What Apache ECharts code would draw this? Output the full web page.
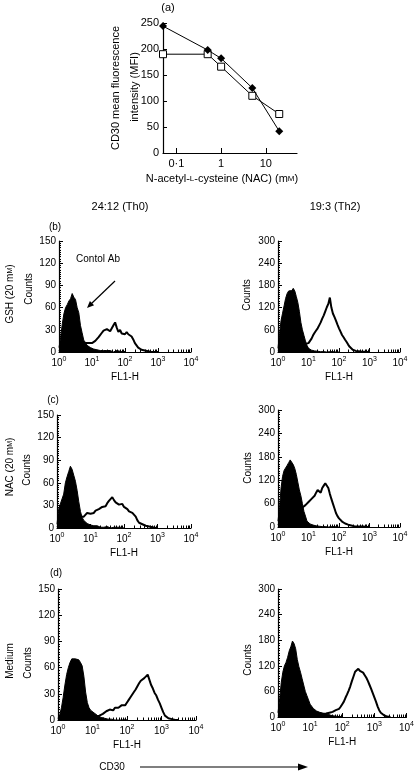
<!DOCTYPE html>
<html><head><meta charset="utf-8">
<script src="https://cdn.jsdelivr.net/npm/echarts@6/dist/echarts.min.js"></script>
<style>html,body{margin:0;padding:0;background:#fff}#c{width:417px;height:774px}</style>
</head><body><div id="c"></div>
<script>
// ---------- (a) CD30 MFI vs NAC concentration ----------
const nacConc = [0.05, 0.5, 1, 5, 20];          // mM (first point = no NAC, at axis origin)
const mfiDiamond = [244, 198, 182, 125, 42];    // filled diamonds
const mfiSquare  = [190, 190, 166, 110, 75];    // open squares
const aXTicks = [0.1, 1, 10];
const aXTickLabels = ['0·1', '1', '10'];

// ---------- histograms: counts per bin, bin width 0.05 log10(FL1-H) starting at 10^0 ----------
const BIN = 0.05;
const decadeExp = [0, 1, 2, 3, 4];
// 24:12 (Th0)
const ctlGSH_Th0 = [6,20,38,52,60,64,69,72,79,74,71,60,53,36,26,16,13,9,8,6,5,4,5,3,4,2,3,2,1,2,1,2,1,0,1,2,0,1,1,0,1];
const cd30GSH_Th0 = [1,2,3,4,5,6,7,8,9,10,10, 11,11,11,10,11,12,11,12,13,12, 14,15,17,20,22,26,29,28,31,30, 28,32,36,40,33,27,30,25,26,24, 27,24,25,21,17,12,9,6,4,3, 2,2,1,1,1,0,1,0,0,0];
const ctlNAC_Th0 = [5,25,32,30,45,60,68,75,82,78,70,62,50,35,22,14,10,8,6,5,4,3,3,2,3,2,1,2,1,1,2,1,0,1,1,0,1,0,1,0,0];
const cd30NAC_Th0 = [1,2,3,4,5,6,7,8,9,10,11, 11,12,14,15,16,15,17,20,18,19, 21,20,23,22,25,24,28,30,29,33, 36,38,41,37,34,35,31,30,32,28, 27,25,22,23,20,19,15,10,7,6, 5,4,3,3,2,1,1,1,0,0];
const ctlMed_Th0 = [2,6,14,26,40,52,60,66,70,72,70,71,69,66,62,50,32,20,14,11,9,8,6,5,4,3,3,2,2,1,2,1,1,0,1,0,1,0,0,1,0];
const cd30Med_Th0 = [1,1,2,2,3,3,3,4,4,4,4,4,4,5,5,5,5,5,4,4,3, 3,4,4,5,6,7,8,10,9,12, 13,11,14,15,14,16,17,16,17,20, 23,26,28,32,35,37,42,45,44,48, 49,52,50,40,36,31,28,23,19,14, 9,5,3,2,1,1,0,0,0,0];
// 19:3 (Th2)
const ctlGSH_Th2 = [10,50,85,105,125,145,158,165,170,166,172,165,150,134,110,80,60,45,30,18,10,6,5,4,3,3,2,2,1,2,1,1,0,1,1,0,1,0,0,1,0];
const cd30GSH_Th2 = [2,3,4,5,6,7,8,9,10,10,11,11,12,13,14,16,18,20,22,25,24, 26,36,45,52,58,64,72,80,90,99, 110,121,130,147,120,104,95,85,74,64, 55,46,40,33,27,20,14,10,6,4, 3,2,2,1,1,0,1,0,0,0];
const ctlNAC_Th2 = [15,50,100,130,145,150,158,165,172,168,160,150,135,115,95,80,60,40,28,15,10,8,6,5,4,3,3,2,2,1,2,1,1,0,1,1,0,1,0,0,0];
const cd30NAC_Th2 = [5,8,10,12,14,16,18,20,22,25,28,30,33,36,40, 45,50,53,56,60,64, 68,72,76,80,88,95,92,88,100,106, 112,108,100,85,72,60,48,36,28,22, 18,14,11,9,7,6,5,4,3,2, 2,1,1,1,0,1,0,0,0,0];
const ctlMed_Th2 = [10,40,80,105,120,128,140,155,165,178,172,160,135,118,105,90,75,60,50,40,30,25,20,16,14,12,11,10,9,8,7,6,5,4,3,3,2,2,1,1,1];
const cd30Med_Th2 = [1,2,3,4,5,5,6,6,7,7,8,8,8,8,8,8,8,8,8,8,8,8,8,8, 8,8,8,7,7,7,8, 9,10,11,12,14,16,18,19,24,30, 36,45,53,62,72,84,95,106,110,113, 108,106,104,98,92,84,75,66,56,46, 36,25,16,10,6,4,2,1,1,0];

const FONT = 'Liberation Sans, Arial, Helvetica, sans-serif';
const BLACK = '#000';

const panels = [
  {grid:{left:59, top:241, width:132, height:111}, yMax:150, yInt:30, ctl:ctlGSH_Th0, st:cd30GSH_Th0},
  {grid:{left:57, top:415, width:134, height:113}, yMax:150, yInt:30, ctl:ctlNAC_Th0, st:cd30NAC_Th0},
  {grid:{left:58, top:589, width:138, height:131}, yMax:150, yInt:30, ctl:ctlMed_Th0, st:cd30Med_Th0},
  {grid:{left:278, top:241, width:122, height:111}, yMax:300, yInt:60, ctl:ctlGSH_Th2, st:cd30GSH_Th2},
  {grid:{left:278, top:410, width:122, height:117}, yMax:300, yInt:60, ctl:ctlNAC_Th2, st:cd30NAC_Th2},
  {grid:{left:278, top:589, width:130, height:128}, yMax:300, yInt:60, ctl:ctlMed_Th2, st:cd30Med_Th2}
];

const minorTickPos = [];
for (const e of decadeExp.slice(0, 4)) for (let m = 2; m <= 9; m++) minorTickPos.push(Math.log10(m) + e);

function hist(arr) { return arr.map((v, i) => [Math.round(i * BIN * 100) / 100, v]); }

const grids = [{left:163, top:23, width:134, height:130}];
const xAxes = [{
  gridIndex:0, type:'value', min:Math.log10(0.05), max:Math.log10(50),
  axisLine:{onZero:false, lineStyle:{color:BLACK, width:1.2}},
  axisTick:{inside:true, length:5, lineStyle:{color:BLACK}, customValues:aXTicks.map(Math.log10)},
  axisLabel:{customValues:aXTicks.map(Math.log10), color:BLACK, fontSize:11, fontFamily:FONT, margin:5,
    formatter:(v) => { const i = aXTicks.findIndex(t => Math.abs(Math.log10(t) - v) < 1e-6); return i >= 0 ? aXTickLabels[i] : ''; }},
  splitLine:{show:false}
}];
const yAxes = [{
  gridIndex:0, type:'value', min:0, max:250, interval:50,
  axisLine:{show:true, onZero:false, lineStyle:{color:BLACK, width:1.2}},
  axisTick:{show:true, inside:true, length:4, lineStyle:{color:BLACK}},
  axisLabel:{color:BLACK, fontSize:11, fontFamily:FONT, margin:4},
  splitLine:{show:false}
}];
const series = [
  {type:'line', xAxisIndex:0, yAxisIndex:0, data:nacConc.map((c, i) => [Math.log10(c), mfiSquare[i]]),
   symbol:'rect', symbolSize:7, lineStyle:{color:BLACK, width:1}, itemStyle:{color:'#fff', borderColor:BLACK, borderWidth:1}, z:3},
  {type:'line', xAxisIndex:0, yAxisIndex:0, data:nacConc.map((c, i) => [Math.log10(c), mfiDiamond[i]]),
   symbol:'diamond', symbolSize:8, lineStyle:{color:BLACK, width:1}, itemStyle:{color:BLACK}, z:4}
];

panels.forEach((p, k) => {
  const gi = k + 1;
  grids.push(p.grid);
  xAxes.push({
    gridIndex:gi, type:'value', min:0, max:4, interval:1, position:'bottom',
    axisLine:{onZero:false, lineStyle:{color:BLACK, width:1.2}},
    axisTick:{inside:true, length:4, lineStyle:{color:BLACK}},
    axisLabel:{color:BLACK, fontFamily:FONT, margin:4,
      formatter:(v) => '{b|10}{s|' + v + '}',
      rich:{b:{fontSize:10, fontFamily:FONT, color:BLACK, lineHeight:14},
            s:{fontSize:7, fontFamily:FONT, color:BLACK, lineHeight:8, verticalAlign:'top'}}},
    name:'FL1-H', nameLocation:'middle', nameGap:20,
    nameTextStyle:{color:BLACK, fontSize:10, fontFamily:FONT},
    splitLine:{show:false}
  });
  xAxes.push({
    gridIndex:gi, type:'value', min:0, max:4, position:'bottom',
    axisLine:{show:false, onZero:false}, axisLabel:{show:false}, splitLine:{show:false},
    axisTick:{show:true, inside:true, length:2.5, lineStyle:{color:BLACK}, customValues:minorTickPos}
  });
  yAxes.push({
    gridIndex:gi, type:'value', min:0, max:p.yMax, interval:p.yInt,
    axisLine:{show:true, onZero:false, lineStyle:{color:BLACK, width:1.2}},
    axisTick:{show:true, inside:true, length:4, lineStyle:{color:BLACK}},
    minorTick:{show:true, splitNumber:10, length:2, lineStyle:{color:BLACK}},
    axisLabel:{color:BLACK, fontSize:10, fontFamily:FONT, margin:3},
    splitLine:{show:false}
  });
  const xi = 1 + 2 * k;
  series.push({type:'line', xAxisIndex:xi, yAxisIndex:gi, data:hist(p.ctl), symbol:'none',
    lineStyle:{color:BLACK, width:1}, areaStyle:{color:BLACK, opacity:1}, z:2});
  series.push({type:'line', xAxisIndex:xi, yAxisIndex:gi, data:hist(p.st), symbol:'none',
    lineStyle:{color:BLACK, width:2}, z:3});
});

function txt(x, y, text, size, rot, extra) {
  return Object.assign({type:'text', x:x, y:y, rotation:rot || 0, silent:true,
    style:{text:text, fontSize:size, fontFamily:FONT, fill:BLACK, align:'center', verticalAlign:'middle',
      rich:{sc:{fontSize:Math.round(size * 0.72), fontFamily:FONT, fill:BLACK}}}}, extra || {});
}
const R = Math.PI / 2;
const graphics = [
  txt(168, 8, '(a)', 11),
  txt(116, 88, 'CD30 mean fluorescence', 11, R),
  txt(135, 87, 'intensity (MFI)', 11, R),
  txt(222, 179, 'N-acetyl-{sc|L}-cysteine (NAC) (m{sc|M})', 11),
  txt(120, 207, '24:12 (Th0)', 11),
  txt(335, 207, '19:3 (Th2)', 11),
  txt(55, 227, '(b)', 10),
  txt(53, 400, '(c)', 10),
  txt(56, 573, '(d)', 10),
  txt(10, 294, 'GSH (20 m{sc|M})', 10, R),
  txt(10, 467, 'NAC (20 m{sc|M})', 10, R),
  txt(10, 661, 'Medium', 10, R),
  txt(29, 289, 'Counts', 10, R),
  txt(27, 470, 'Counts', 10, R),
  txt(28, 663, 'Counts', 10, R),
  txt(247, 295, 'Counts', 10, R),
  txt(248, 468, 'Counts', 10, R),
  txt(248, 660, 'Counts', 10, R),
  txt(98, 259, 'Contol Ab', 10),
  {type:'line', silent:true, shape:{x1:115, y1:281, x2:91, y2:304}, style:{stroke:BLACK, lineWidth:1.2}},
  {type:'polygon', silent:true, shape:{points:[[87,308],[94.1,305.3],[89.9,301.0]]}, style:{fill:BLACK}},
  txt(112, 767, 'CD30', 10),
  {type:'line', silent:true, shape:{x1:140, y1:767, x2:300, y2:767}, style:{stroke:BLACK, lineWidth:1.2}},
  {type:'polygon', silent:true, shape:{points:[[308,767],[298,763.5],[298,770.5]]}, style:{fill:BLACK}}
];

const chart = echarts.init(document.getElementById('c'), null, {renderer:'canvas'});
chart.setOption({
  animation:false,
  backgroundColor:'#fff',
  grid:grids, xAxis:xAxes, yAxis:yAxes, series:series,
  graphic:{elements:graphics}
});
</script></body></html>
